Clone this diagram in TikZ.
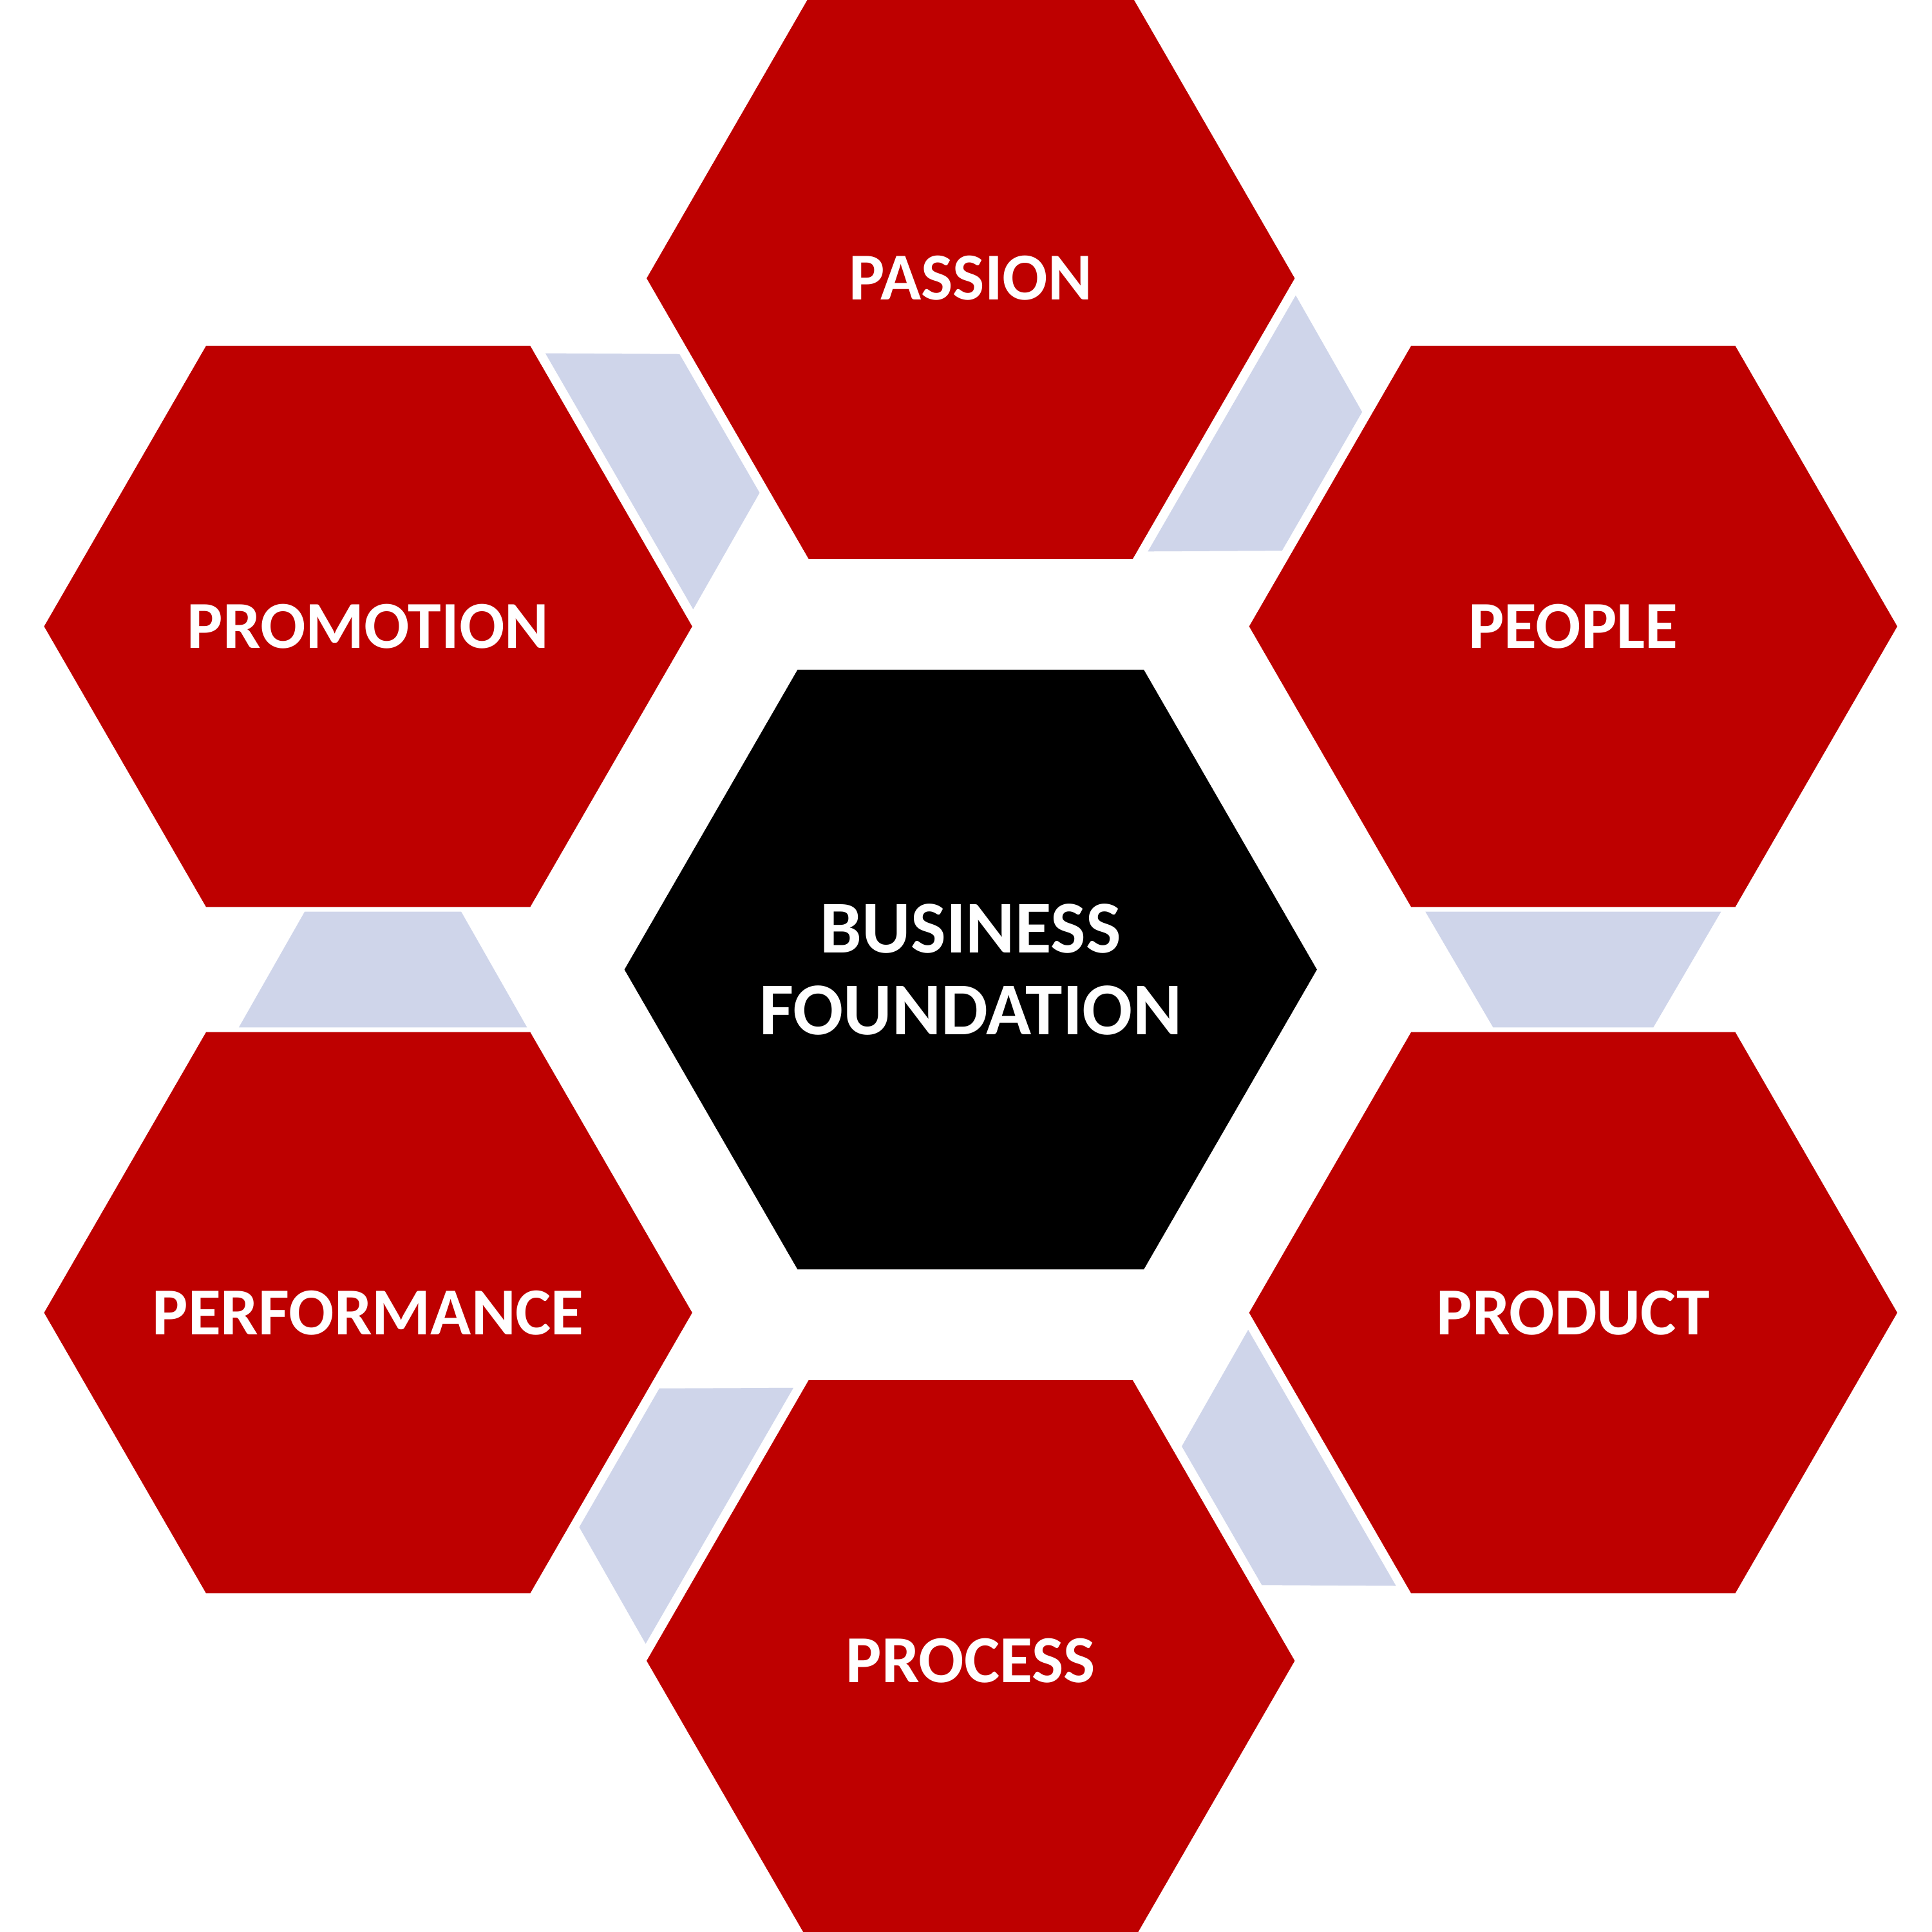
\documentclass[tikz,border=0pt]{standalone}
\usepackage{fontspec}
\setmainfont{Carlito}
\usetikzlibrary{shapes.geometric,calc}

\definecolor{hexred}{RGB}{190,0,0}
\definecolor{linkblue}{RGB}{207,213,234}

\begin{document}
\begin{tikzpicture}[
    font=\bfseries\fontsize{15.5}{18}\selectfont,
    hexa/.style={regular polygon, regular polygon sides=6, inner sep=0pt, outer sep=0pt,
      text=white, align=center},
    petal/.style={hexa, fill=hexred, minimum size=52.6mm},
    core/.style={hexa, fill=black, minimum size=56.2mm,
      font=\bfseries\fontsize{17.2}{18.9}\selectfont},
    link/.style={fill=linkblue}
  ]
    \useasboundingbox (-7.878,-7.811) rectangle (7.802,7.869);

    \node[core] (base) at (0,0) {BUSINESS\\FOUNDATION};

    % zero-width boxes keep long labels from growing the hexagons
    \node[petal] (passion) at (0,5.61) {\makebox[0pt]{PASSION}};
    \node[petal] (people) at (4.89,2.785) {\makebox[0pt]{PEOPLE}};
    \node[petal] (product) at (4.89,-2.785) {\makebox[0pt]{PRODUCT}};
    \node[petal] (process) at (0,-5.61) {\makebox[0pt]{PROCESS}};
    \node[petal] (performance) at (-4.89,-2.785) {\makebox[0pt]{PERFORMANCE}};
    \node[petal] (promotion) at (-4.89,2.785) {\makebox[0pt]{PROMOTION}};

    % light links, wide side towards the next petal
    \fill[link, shift={($(people)!.5!(product)$)}, rotate=0]
      (-1.2,0.47) -- (1.2,0.47) -- (0.65,-0.47) -- (-0.65,-0.47) -- cycle;
    \fill[link, shift={($(passion)!.5!(people)$)}, rotate=60]
      (-1.2,0.47) -- (1.2,0.47) -- (0.65,-0.47) -- (-0.65,-0.47) -- cycle;
    \fill[link, shift={($(promotion)!.5!(passion)$)}, rotate=120]
      (-1.2,0.47) -- (1.2,0.47) -- (0.65,-0.47) -- (-0.65,-0.47) -- cycle;
    \fill[link, shift={($(performance)!.5!(promotion)+(0.12,0)$)}, rotate=180]
      (-1.17,0.47) -- (1.17,0.47) -- (0.635,-0.47) -- (-0.635,-0.47) -- cycle;
    \fill[link, shift={($(process)!.5!(performance)$)}, rotate=240]
      (-1.2,0.47) -- (1.2,0.47) -- (0.65,-0.47) -- (-0.65,-0.47) -- cycle;
    \fill[link, shift={($(product)!.5!(process)$)}, rotate=300]
      (-1.2,0.47) -- (1.2,0.47) -- (0.65,-0.47) -- (-0.65,-0.47) -- cycle;
\end{tikzpicture}
\end{document}
